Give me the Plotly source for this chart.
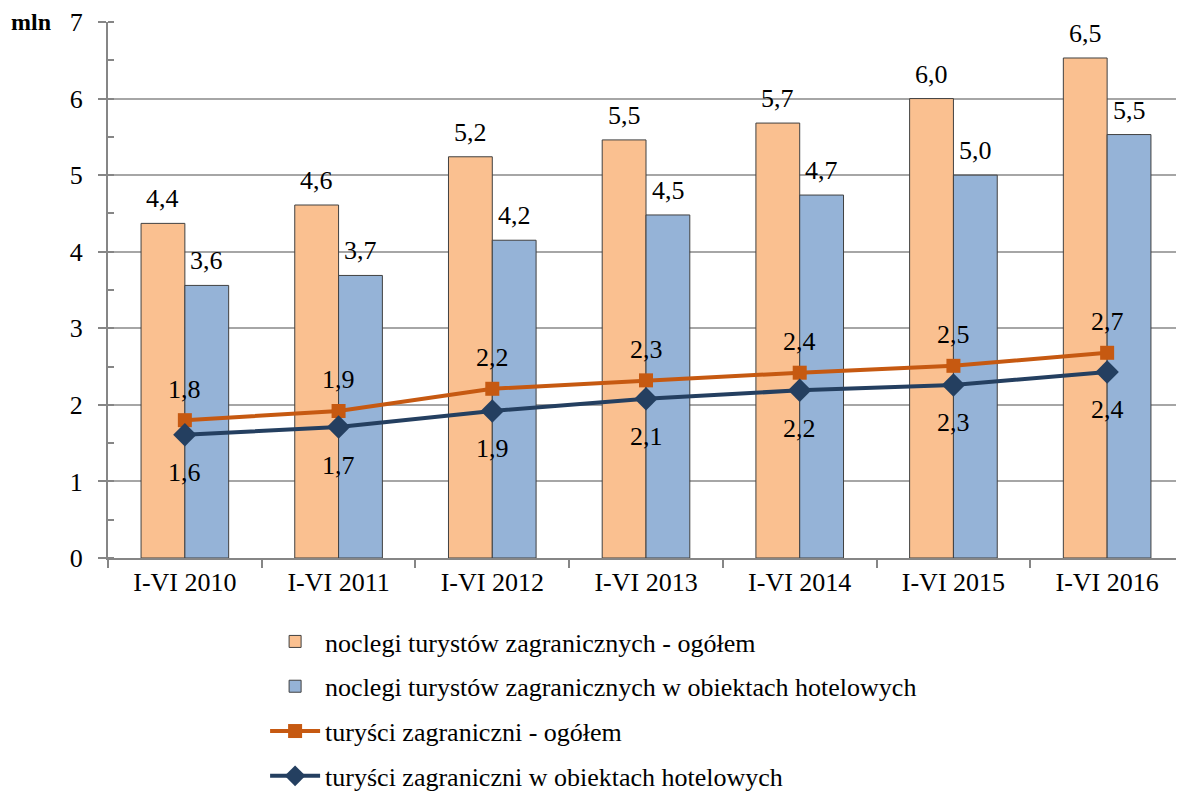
import plotly.graph_objects as go

categories = ["I-VI 2010", "I-VI 2011", "I-VI 2012", "I-VI 2013", "I-VI 2014", "I-VI 2015", "I-VI 2016"]
noclegi_ogolem = [4.37, 4.61, 5.24, 5.46, 5.68, 6.0, 6.53]
noclegi_hotel = [3.56, 3.69, 4.15, 4.48, 4.74, 5.0, 5.53]
turysci_ogolem = [1.80, 1.92, 2.21, 2.32, 2.42, 2.51, 2.68]
turysci_hotel = [1.61, 1.71, 1.92, 2.08, 2.19, 2.26, 2.43]

names = [
    "noclegi turystów zagranicznych - ogółem",
    "noclegi turystów zagranicznych w obiektach hotelowych",
    "turyści zagraniczni - ogółem",
    "turyści zagraniczni w obiektach hotelowych",
]

FONT = "Liberation Serif"
FS = 26


def fmt(v):
    return f"{v:.1f}".replace(".", ",")


fig = go.Figure()
fig.add_trace(go.Bar(
    x=categories, y=noclegi_ogolem, name=names[0], legendgroup="a",
    marker=dict(color="#FAC090", line=dict(color="#404040", width=1)),
))
fig.add_trace(go.Bar(
    x=categories, y=noclegi_hotel, name=names[1], legendgroup="b",
    marker=dict(color="#95B3D7", line=dict(color="#404040", width=1)),
))
fig.add_trace(go.Scatter(
    x=categories, y=turysci_ogolem, name=names[2], mode="lines+markers", legendgroup="c",
    line=dict(color="#C65911", width=4),
    marker=dict(symbol="square", size=14, color="#C65911"),
    cliponaxis=False,
))
fig.add_trace(go.Scatter(
    x=categories, y=turysci_hotel, name=names[3], mode="lines+markers", legendgroup="d",
    line=dict(color="#243F60", width=4),
    marker=dict(symbol="diamond", size=18, color="#243F60"),
    cliponaxis=False,
))

annotations = []
for c, v in zip(categories, noclegi_ogolem):
    annotations.append(dict(x=c, y=v, xref="x", yref="y", text=fmt(v), showarrow=False,
                            xshift=-22, yshift=8, yanchor="bottom",
                            font=dict(size=FS, family=FONT)))
for c, v in zip(categories, noclegi_hotel):
    annotations.append(dict(x=c, y=v, xref="x", yref="y", text=fmt(v), showarrow=False,
                            xshift=22, yshift=8, yanchor="bottom",
                            font=dict(size=FS, family=FONT)))
for c, v in zip(categories, turysci_ogolem):
    annotations.append(dict(x=c, y=v, xref="x", yref="y", text=fmt(v),
                            showarrow=False, yshift=31, font=dict(size=FS, family=FONT)))
for c, v in zip(categories, turysci_hotel):
    annotations.append(dict(x=c, y=v, xref="x", yref="y", text=fmt(v),
                            showarrow=False, yshift=-38, font=dict(size=FS, family=FONT)))
annotations.append(dict(
    text="<b>mln</b>", xref="paper", yref="paper", x=-0.092, y=1.0,
    xanchor="left", yanchor="middle", showarrow=False, font=dict(size=24, family=FONT),
))

fig.update_layout(
    width=1176, height=784,
    margin=dict(l=100, r=0, t=14, b=234, autoexpand=False),
    paper_bgcolor="white", plot_bgcolor="white",
    barmode="group", bargap=0.43, bargroupgap=0,
    font=dict(family=FONT, size=FS, color="#000000"),
    showlegend=True,
    legend=dict(
        orientation="v", x=0.146, xanchor="left", y=-0.112, yanchor="top",
        font=dict(size=FS, family=FONT), tracegroupgap=8, itemwidth=50,
        traceorder="grouped",
    ),
    xaxis=dict(
        showline=True, linecolor="#868686", linewidth=2,
        ticks="outside", tickson="boundaries", ticklen=8, tickcolor="#868686", tickwidth=2,
        tickfont=dict(size=FS, family=FONT), showgrid=False,
    ),
    yaxis=dict(
        range=[0, 7], dtick=1, showline=True, linecolor="#868686", linewidth=2,
        ticks="outside", ticklen=8, tickcolor="#868686", tickwidth=2,
        showgrid=True, gridcolor="#A6A6A6", gridwidth=2,
        tickfont=dict(size=FS, family=FONT), zeroline=False, ticklabelstandoff=10,
        minor=dict(dtick=0.5, ticks="inside", ticklen=6, tickcolor="#868686", showgrid=False),
    ),
    annotations=annotations,
)

fig.write_html("out.html")
